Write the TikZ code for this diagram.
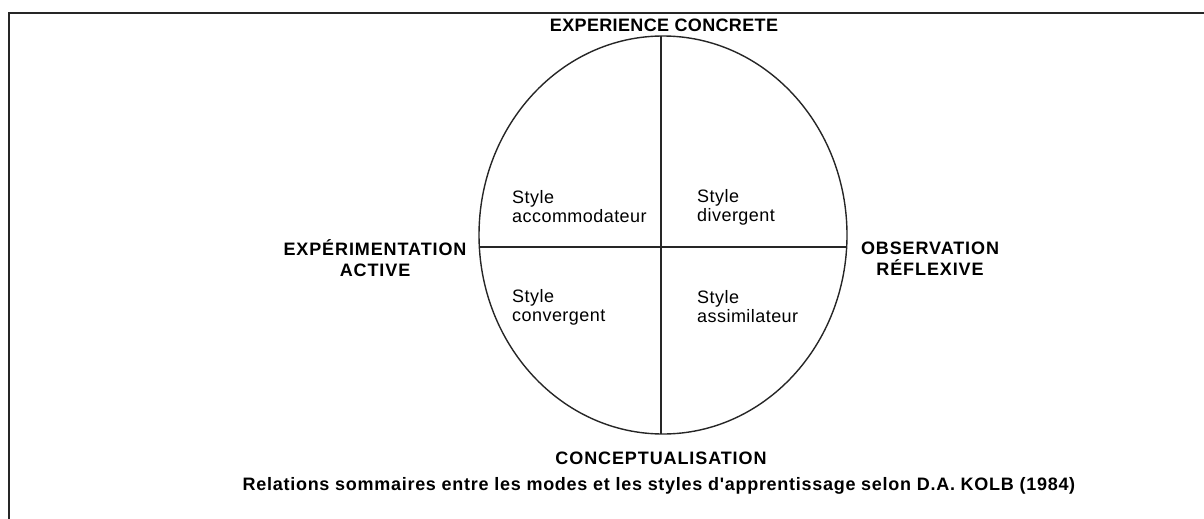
\documentclass[tikz,border=0pt]{standalone}
\usetikzlibrary{shapes.geometric}
\usepackage{fontspec}
\setmainfont{Liberation Sans}
\newfontfamily\lblfont[LetterSpace=5]{Liberation Sans}
\newfontfamily\lblfontnarrow[LetterSpace=2]{Liberation Sans}
\newfontfamily\quadfont[LetterSpace=2.5]{Liberation Sans}
\newfontfamily\capfont[LetterSpace=4]{Liberation Sans}
\begin{document}
\begin{tikzpicture}[x=1pt,y=-1pt,
  axislabel/.style={font=\fontsize{18}{21}\lblfont\bfseries, align=center, inner sep=0pt},
  quadtext/.style={font=\fontsize{18}{19}\quadfont, align=left, anchor=west, inner sep=0pt},
  captext/.style={font=\fontsize{18}{21}\capfont\bfseries, inner sep=0pt},
  frameline/.style={line width=1.6pt, draw=black!85},
  circline/.style={line width=1.4pt, draw=black!85}]
\useasboundingbox (0,0) rectangle (1204,519);
% frame
\coordinate (ftr) at (1204,13);
\coordinate (ftl) at (9,13);
\coordinate (fbl) at (9,519);
\draw[frameline] (ftr) -- (ftl) -- (fbl);
% circle
\node[circline, ellipse, draw, minimum width=368pt, minimum height=398pt, inner sep=0pt] (c) at (663,235) {};
\coordinate (ht) at (661,36);
\coordinate (hb) at (661,434);
\coordinate (hl) at (480,247);
\coordinate (hr) at (846,247);
\draw[circline] (ht) -- (hb);
\draw[circline] (hl) -- (hr);
% axis labels
\node[axislabel, font=\fontsize{18}{21}\lblfontnarrow\bfseries] (ec) at (664,25) {EXPERIENCE CONCRETE};
\node[axislabel] (ea) at (375,258) {EXPÉRIMENTATION\\ACTIVE};
\node[axislabel] (or) at (930,259) {OBSERVATION\\RÉFLEXIVE};
\node[axislabel] (co) at (661,458) {CONCEPTUALISATION};
% quadrants
\node[quadtext] (q1) at (512,207) {Style\\accommodateur};
\node[quadtext] (q2) at (697,207) {Style\\divergent};
\node[quadtext] (q3) at (512,307) {Style\\convergent};
\node[quadtext] (q4) at (697,307) {Style\\assimilateur};
% caption
\node[captext] (cap) at (659,486) {Relations sommaires entre les modes et les styles d'apprentissage selon D.A. KOLB (1984)};
\end{tikzpicture}
\end{document}
